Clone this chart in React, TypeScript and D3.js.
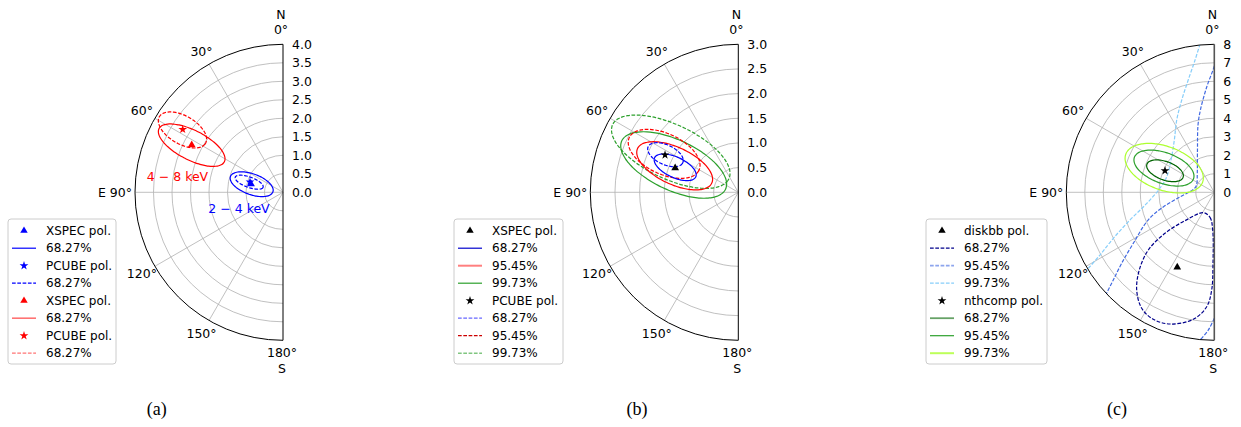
import React from 'react';
import * as d3 from 'd3';

const W = 1241;
const H = 427;
const R = 148;
const CY = 192.3;
const FONT = 'DejaVu Sans';
const AX_FS = 12.5;

// panel (a): 2-4 keV (blue) and 4-8 keV (red)
const aTicks = [0, 0.5, 1, 1.5, 2, 2.5, 3, 3.5, 4];
// [PD, PA]
const aXspecLow = [0.893, 75.5];
const aPcubeLow = [0.934, 72.7];
const aXspecHigh = [2.779, 62.6];
const aPcubeHigh = [3.2, 57.9];
// ellipses: [PD, PA, semi-major, semi-minor, tilt(deg, screen)]
const aXspecLow68 = [0.874, 75.5, 0.61, 0.28, 20];
const aPcubeLow68 = [0.954, 73.4, 0.4, 0.14, 20];
const aXspecHigh68 = [2.777, 62.7, 0.99, 0.4, 27];
const aPcubeHigh68 = [3.197, 58.2, 0.72, 0.38, 30];

// panel (b)
const bTicks = [0, 0.5, 1, 1.5, 2, 2.5, 3];
const bXspec = [1.371, 69.0];
const bPcube = [1.667, 63.0];
const bXspec68 = [1.376, 68.4, 0.46, 0.207, 25];
const bXspec95 = [1.397, 67.4, 0.83, 0.375, 25];
const bXspec99 = [1.422, 67.1, 1.16, 0.51, 25];
const bPcube68 = [1.661, 62.7, 0.387, 0.199, 25];
const bPcube95 = [1.693, 62.6, 0.78, 0.41, 25];
const bPcube99 = [1.597, 59.0, 1.3, 0.553, 25];

// panel (c)
const cTicks = [0, 1, 2, 3, 4, 5, 6, 7, 8];
const cNthcomp = [2.91, 66.3];
const cDiskbb = [4.52, 153.7];
const cNth68 = [2.907, 66.4, 1.04, 0.5, 20];
const cNth95 = [3.02, 64.3, 1.7, 0.83, 20];
const cNth99 = [3.005, 64.3, 2.21, 1.18, 20];
// diskbb contours as [east, north] components in PD units
const cDisk68 = [
  [0.595, -1.103], [0.232, -1.351], [0.086, -2.038], [0.07, -3.838], [0.141, -5.281],
  [0.411, -6.184], [1.135, -6.865], [2.395, -7.119], [3.297, -6.865], [3.924, -6.27],
  [4.195, -5.281], [4.054, -4.2], [3.568, -3.119], [2.665, -2.216], [1.584, -1.535],
];
const cDisk95a = [
  [0, 6.83], [0.07, 6.61], [0.41, 5.69], [0.75, 4.45], [0.88, 3.64], [0.91, 2.29],
  [0.92, 1.04], [0.96, 0.39], [1.1, 0.18], [1.85, -0.25], [2.76, -0.79], [3.58, -1.5],
  [4.38, -2.76], [5.01, -3.84], [5.46, -4.74], [5.82, -5.46], [5.96, -5.82],
];
const cDisk95b = [[0, -6.81], [0.32, -7.44], [0.86, -8.08]];
const cDisk99 = [
  [0.77, 8.02], [1.04, 7.15], [1.41, 6.07], [1.76, 4.99], [2.03, 3.91], [2.16, 2.83],
  [2.34, 1.75], [2.57, 0.84], [2.94, 0.22], [3.65, -0.6], [4.56, -1.5], [5.46, -2.49],
  [6.18, -3.39], [6.81, -4.11], [6.99, -4.32],
];

const thetaTicks = [30, 60, 120, 150];
const DASH = '3.7,1.6';

const toRad = (d) => (d * Math.PI) / 180;

// ellipse -> [east, north] points
function ellipsePts([pd, pa, a, b, tilt]) {
  const e0 = pd * Math.sin(toRad(pa));
  const n0 = pd * Math.cos(toRad(pa));
  const f = toRad(tilt);
  return d3.range(0, 360, 4).map((deg) => {
    const t = toRad(deg);
    return [
      e0 - a * Math.cos(t) * Math.cos(f) + b * Math.sin(t) * Math.sin(f),
      n0 - a * Math.cos(t) * Math.sin(f) - b * Math.sin(t) * Math.cos(f),
    ];
  });
}

function radialLine(r, closed) {
  return d3.lineRadial()
    .angle((d) => -Math.atan2(d[0], d[1]))
    .radius((d) => r(Math.hypot(d[0], d[1])))
    .curve(closed ? d3.curveCatmullRomClosed : d3.curveCatmullRom);
}

function polarXY(r, pd, pa) {
  return [-r(pd) * Math.sin(toRad(pa)), -r(pd) * Math.cos(toRad(pa))];
}

const Marker = ({ r, p, type, color }) => {
  const [x, y] = polarXY(r, p[0], p[1]);
  const sym = type === 'tri'
    ? d3.symbol(d3.symbolTriangle, 26)
    : d3.symbol(d3.symbolStar, 24);
  return <path d={sym()} transform={`translate(${x},${y})`} fill={color} />;
};

const Panel = ({ id, cx, rMax, ticks, fmt, spine, children }) => {
  const r = d3.scaleLinear().domain([0, rMax]).range([0, R]);
  const clip = d3.arc()({ innerRadius: 0, outerRadius: R, startAngle: -Math.PI, endAngle: 0 });
  const outer = d3.path();
  outer.moveTo(0, -R);
  outer.arc(0, 0, R, -Math.PI / 2, Math.PI / 2, true);
  const grid = d3.path();
  ticks.slice(1, -1).forEach((t) => {
    grid.moveTo(0, -r(t));
    grid.arc(0, 0, r(t), -Math.PI / 2, Math.PI / 2, true);
  });
  return (
    <g transform={`translate(${cx},${CY})`}>
      <defs>
        <clipPath id={id}><path d={clip} /></clipPath>
      </defs>
      <path d={grid.toString()} fill="none" stroke="#b0b0b0" strokeWidth={0.8} />
      {[30, 60, 90, 120, 150].map((a) => {
        const [x, y] = polarXY(r, rMax, a);
        return <line key={a} x1={0} y1={0} x2={x} y2={y} stroke="#b0b0b0" strokeWidth={0.8} />;
      })}
      <g clipPath={`url(#${id})`}>{children(r)}</g>
      <path d={outer.toString()} fill="none" stroke="#000" strokeWidth={1} />
      <line x1={0} y1={-R} x2={0} y2={R} stroke={spine} strokeWidth={spine === '#000' ? 1 : 1.6} />
      {ticks.map((t) => (
        <text key={t} x={9} y={-r(t)} dy="0.35em" fontSize={AX_FS} fontFamily={FONT}>{fmt(t)}</text>
      ))}
      {thetaTicks.map((a) => {
        const [x, y] = polarXY(r, rMax, a).map((v) => (v * (R + 15)) / R);
        return (
          <text key={a} x={x} y={y} dy="0.35em" textAnchor="middle" fontSize={AX_FS} fontFamily={FONT}>{a}°</text>
        );
      })}
      <text x={-R - 3} y={0} dy="0.35em" textAnchor="end" fontSize={AX_FS} fontFamily={FONT}>E 90°</text>
      <text x={-2} y={-173} textAnchor="middle" fontSize={AX_FS} fontFamily={FONT}>N</text>
      <text x={-2} y={-158} textAnchor="middle" fontSize={AX_FS} fontFamily={FONT}>0°</text>
      <text x={-1} y={165} textAnchor="middle" fontSize={AX_FS} fontFamily={FONT}>180°</text>
      <text x={-1} y={181} textAnchor="middle" fontSize={AX_FS} fontFamily={FONT}>S</text>
    </g>
  );
};

const Legend = ({ x, w, entries }) => {
  const y0 = 219;
  const h = 145;
  return (
    <g transform={`translate(${x},${y0})`}>
      <rect x={0} y={0} width={w} height={h} rx={3} fill="#fff" fillOpacity={0.8} stroke="#cccccc" strokeWidth={1} />
      {entries.map((e, i) => {
        const y = 11.7 + i * 17.5;
        let handle;
        if (e.kind === 'tri' || e.kind === 'star') {
          const sym = d3.symbol(e.kind === 'tri' ? d3.symbolTriangle : d3.symbolStar, 24);
          handle = <path d={sym()} transform={`translate(16,${y})`} fill={e.color} />;
        } else {
          handle = (
            <line x1={4} x2={28} y1={y} y2={y} stroke={e.color} strokeOpacity={e.alpha ?? 1}
              strokeWidth={e.width ?? 1.2} strokeDasharray={e.kind === 'dash' ? DASH : null} />
          );
        }
        return (
          <g key={i}>
            {handle}
            <text x={38} y={y} dy="0.35em" fontSize={12} fontFamily={FONT}>{e.label}</text>
          </g>
        );
      })}
    </g>
  );
};

const aLegend = [
  { kind: 'tri', color: '#0000ff', label: 'XSPEC pol.' },
  { kind: 'line', color: '#0000ff', label: '68.27%' },
  { kind: 'star', color: '#0000ff', label: 'PCUBE pol.' },
  { kind: 'dash', color: '#0000ff', label: '68.27%' },
  { kind: 'tri', color: '#ff0000', label: 'XSPEC pol.' },
  { kind: 'line', color: '#ff0000', alpha: 0.55, width: 1.6, label: '68.27%' },
  { kind: 'star', color: '#ff0000', label: 'PCUBE pol.' },
  { kind: 'dash', color: '#ff0000', alpha: 0.55, label: '68.27%' },
];
const bLegend = [
  { kind: 'tri', color: '#000', label: 'XSPEC pol.' },
  { kind: 'line', color: '#0000cc', label: '68.27%' },
  { kind: 'line', color: '#ff0000', alpha: 0.5, width: 2, label: '95.45%' },
  { kind: 'line', color: '#2ca02c', label: '99.73%' },
  { kind: 'star', color: '#000', label: 'PCUBE pol.' },
  { kind: 'dash', color: '#0000ff', alpha: 0.6, label: '68.27%' },
  { kind: 'dash', color: '#cc0000', label: '95.45%' },
  { kind: 'dash', color: '#2ca02c', alpha: 0.6, width: 1.5, label: '99.73%' },
];
const cLegend = [
  { kind: 'tri', color: '#000', label: 'diskbb pol.' },
  { kind: 'dash', color: '#00008b', label: '68.27%' },
  { kind: 'dash', color: '#4169e1', alpha: 0.6, width: 1.8, label: '95.45%' },
  { kind: 'dash', color: '#87cefa', label: '99.73%' },
  { kind: 'star', color: '#000', label: 'nthcomp pol.' },
  { kind: 'line', color: '#006400', alpha: 0.6, width: 1.8, label: '68.27%' },
  { kind: 'line', color: '#2ca02c', label: '95.45%' },
  { kind: 'line', color: '#adff2f', alpha: 0.8, width: 2, label: '99.73%' },
];

const Contour = ({ r, pts, color, dash, closed = true, width = 1.2 }) => (
  <path d={radialLine(r, closed)(pts)} fill="none" stroke={color} strokeWidth={width}
    strokeDasharray={dash ? DASH : null} />
);

const fmt1 = d3.format('.1f');
const fmt0 = d3.format('d');

export default function App() {
  return (
    <svg width={W} height={H} style={{ position: 'absolute', left: 0, top: 0, background: '#fff' }}>
      <Panel id="clipA" cx={283} rMax={4} ticks={aTicks} fmt={fmt1} spine="#000">
        {(r) => (
          <g>
            <Contour r={r} pts={ellipsePts(aXspecLow68)} color="#0000ff" />
            <Contour r={r} pts={ellipsePts(aPcubeLow68)} color="#0000ff" dash />
            <Contour r={r} pts={ellipsePts(aXspecHigh68)} color="#ff0000" />
            <Contour r={r} pts={ellipsePts(aPcubeHigh68)} color="#ff0000" dash />
            <Marker r={r} p={aPcubeLow} type="star" color="#0000ff" />
            <Marker r={r} p={aXspecLow} type="tri" color="#0000ff" />
            <Marker r={r} p={aPcubeHigh} type="star" color="#ff0000" />
            <Marker r={r} p={aXspecHigh} type="tri" color="#ff0000" />
          </g>
        )}
      </Panel>
      <text x={177.5} y={176.7} dy="0.35em" textAnchor="middle" fontSize={12.5} fontFamily={FONT} fill="#ff0000">4 − 8 keV</text>
      <text x={239} y={208.3} dy="0.35em" textAnchor="middle" fontSize={12.5} fontFamily={FONT} fill="#0000ff">2 − 4 keV</text>

      <Panel id="clipB" cx={738.3} rMax={3} ticks={bTicks} fmt={fmt1} spine="#000">
        {(r) => (
          <g>
            <Contour r={r} pts={ellipsePts(bPcube99)} color="#2ca02c" dash />
            <Contour r={r} pts={ellipsePts(bXspec99)} color="#2ca02c" />
            <Contour r={r} pts={ellipsePts(bPcube95)} color="#ff0000" dash />
            <Contour r={r} pts={ellipsePts(bXspec95)} color="#ff0000" />
            <Contour r={r} pts={ellipsePts(bPcube68)} color="#0000ff" dash />
            <Contour r={r} pts={ellipsePts(bXspec68)} color="#0000ff" />
            <Marker r={r} p={bPcube} type="star" color="#000" />
            <Marker r={r} p={bXspec} type="tri" color="#000" />
          </g>
        )}
      </Panel>

      <Panel id="clipC" cx={1214.3} rMax={8} ticks={cTicks} fmt={fmt0} spine="#555">
        {(r) => (
          <g>
            <Contour r={r} pts={cDisk99} color="#87cefa" dash closed={false} />
            <Contour r={r} pts={cDisk95a} color="#4169e1" dash closed={false} />
            <Contour r={r} pts={cDisk95b} color="#4169e1" dash closed={false} />
            <Contour r={r} pts={cDisk68} color="#00008b" dash />
            <Contour r={r} pts={ellipsePts(cNth99)} color="#adff2f" />
            <Contour r={r} pts={ellipsePts(cNth95)} color="#2ca02c" />
            <Contour r={r} pts={ellipsePts(cNth68)} color="#006400" />
            <Marker r={r} p={cNthcomp} type="star" color="#000" />
            <Marker r={r} p={cDiskbb} type="tri" color="#000" />
          </g>
        )}
      </Panel>

      <Legend x={8} w={108} entries={aLegend} />
      <Legend x={454} w={109} entries={bLegend} />
      <Legend x={926} w={121} entries={cLegend} />

      <text x={156.7} y={415} textAnchor="middle" fontSize={18} fontFamily="Liberation Serif">(a)</text>
      <text x={637} y={415} textAnchor="middle" fontSize={18} fontFamily="Liberation Serif">(b)</text>
      <text x={1117} y={415} textAnchor="middle" fontSize={18} fontFamily="Liberation Serif">(c)</text>
    </svg>
  );
}
